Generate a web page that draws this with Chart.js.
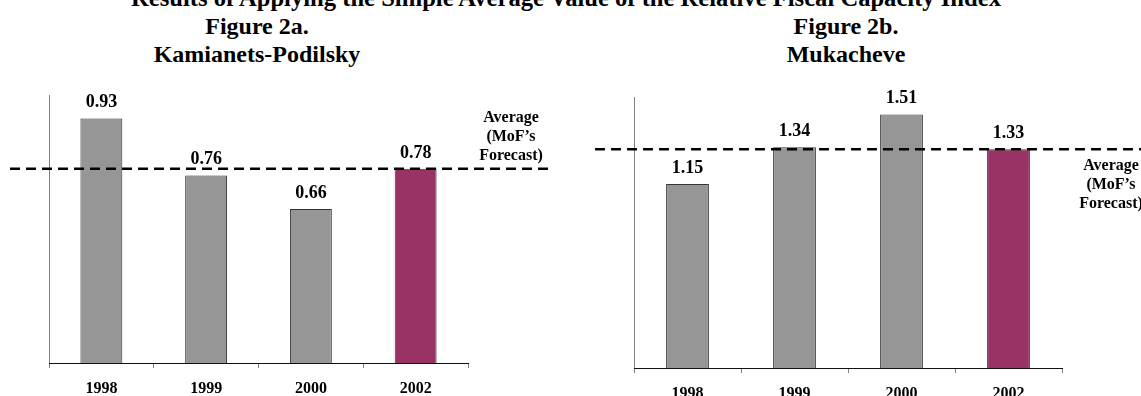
<!DOCTYPE html>
<html>
<head>
<meta charset="utf-8">
<script src="https://cdn.jsdelivr.net/npm/chart.js@4/dist/chart.umd.min.js"></script>
<style>
  html, body { margin: 0; padding: 0; background: #fff; }
  #page { position: relative; width: 1141px; height: 396px; overflow: hidden; background: #fff; }
  .ttl {
    position: absolute; white-space: nowrap; transform: translateX(-50%);
    font-family: 'Liberation Serif', 'Times New Roman', serif; font-weight: bold;
    font-size: 24px; line-height: 28px; color: #000;
  }
  canvas { position: absolute; top: 0; }
</style>
</head>
<body>
<div id="page">
  <div class="ttl" style="left:566px; top:-16px; font-size:24.6px;">Results of Applying the Simple Average Value of the Relative Fiscal Capacity Index</div>
  <div class="ttl" style="left:257px; top:12px;">Figure 2a.</div>
  <div class="ttl" style="left:257px; top:40px;">Kamianets-Podilsky</div>
  <div class="ttl" style="left:846px; top:12px;">Figure 2b.</div>
  <div class="ttl" style="left:846px; top:40px;">Mukacheve</div>
  <canvas id="kam" width="570" height="396" style="left:0px;"></canvas>
  <canvas id="muk" width="571" height="396" style="left:570px;"></canvas>
</div>
<script>
// Relative fiscal capacity index by year
const years = ['1998', '1999', '2000', '2002'];
const kamianetsValues = [0.93, 0.76, 0.66, 0.78];
const mukacheveValues = [1.15, 1.34, 1.51, 1.33];
// Ministry of Finance forecast (simple average)
const kamianetsAverage = 0.78;
const mukacheveAverage = 1.33;
const averageCaption = ['Average', '(MoF\u2019s', 'Forecast)'];

const SERIF = "'Liberation Serif', 'Times New Roman', serif";
const GREY = '#969696';
const PLUM = '#993366';
const barColors = years.map(y => (y === '2002' ? PLUM : GREY));

Chart.defaults.font.family = SERIF;

// Draws the y-axis line, value labels, dashed average line and its caption
const annotate = {
  id: 'annotate',
  afterDatasetsDraw(chart, args, opts) {
    const ctx = chart.ctx;
    const area = chart.chartArea;
    const meta = chart.getDatasetMeta(0);
    const values = chart.data.datasets[0].data;
    ctx.save();

    ctx.strokeStyle = '#808080';
    ctx.lineWidth = 1;
    ctx.beginPath();
    ctx.moveTo(Math.round(area.left) + 0.5, area.top);
    ctx.lineTo(Math.round(area.left) + 0.5, area.bottom);
    ctx.stroke();

    ctx.fillStyle = '#000';
    ctx.textAlign = 'center';
    ctx.textBaseline = 'alphabetic';
    ctx.font = 'bold 18px ' + SERIF;
    meta.data.forEach((bar, i) => {
      ctx.fillText(values[i].toFixed(2), bar.x, bar.y - 11);
    });

    const y = chart.scales.y.getPixelForValue(opts.average);
    ctx.strokeStyle = '#000';
    ctx.lineWidth = 2.5;
    ctx.setLineDash([10, 6]);
    ctx.beginPath();
    ctx.moveTo(opts.lineFrom, y);
    ctx.lineTo(opts.lineTo, y);
    ctx.stroke();
    ctx.setLineDash([]);

    ctx.font = 'bold 16px ' + SERIF;
    averageCaption.forEach((txt, k) => {
      ctx.fillText(txt, opts.captionX, y + opts.captionDy + k * 19);
    });
    ctx.restore();
  }
};

function makeChart(id, values, average, yMax, pad, xHeight, annot) {
  return new Chart(document.getElementById(id), {
    type: 'bar',
    data: {
      labels: years,
      datasets: [{
        data: values,
        backgroundColor: barColors,
        borderColor: '#333',
        borderWidth: 1,
        categoryPercentage: 1,
        barPercentage: 0.4
      }]
    },
    options: {
      responsive: false,
      devicePixelRatio: 1,
      animation: false,
      layout: { padding: pad },
      plugins: {
        legend: { display: false },
        tooltip: { enabled: false },
        annotate: Object.assign({ average: average }, annot)
      },
      scales: {
        x: {
          grid: {
            display: true, drawOnChartArea: false, offset: true,
            tickLength: 5, color: '#808080', tickColor: '#808080'
          },
          border: { display: true, color: '#111', width: 1 },
          ticks: {
            color: '#000', padding: 11,
            font: { family: SERIF, size: 16, weight: 'bold' }
          },
          afterFit(scale) { scale.height = xHeight; }
        },
        y: { display: false, min: 0.2, max: yMax }
      }
    },
    plugins: [annotate]
  });
}

makeChart('kam', kamianetsValues, kamianetsAverage, 1.0,
  { left: 49, right: 102, top: 95, bottom: 0 }, 33,
  { lineFrom: 10, lineTo: 550, captionX: 511, captionDy: -47 });

makeChart('muk', mukacheveValues, mukacheveAverage, 1.6,
  { left: 64, right: 79, top: 97, bottom: 0 }, 28,
  { lineFrom: 25, lineTo: 571, captionX: 541, captionDy: 21 });
</script>
</body>
</html>
